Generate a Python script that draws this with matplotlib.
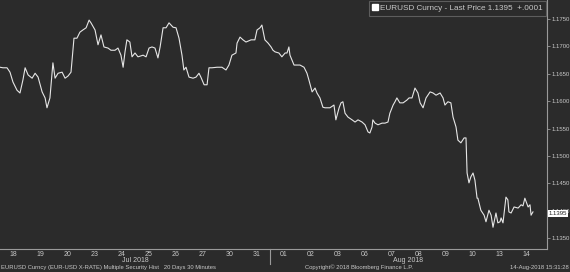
import matplotlib.pyplot as plt
import matplotlib.transforms as mtransforms
from matplotlib.lines import Line2D

plt.rcParams['font.family'] = ['Liberation Sans', 'DejaVu Sans']

# time in trading days since start of 18 Jul (30 min bars, traced), price
t_days = [0.00, 0.11, 0.26, 0.37, 0.48, 0.63, 0.74, 0.85, 0.93, 1.04, 1.19, 1.30, 1.41,
          1.56, 1.67, 1.74, 1.85, 1.96, 2.04, 2.15, 2.30, 2.41, 2.52, 2.63, 2.74, 2.85,
          2.96, 3.07, 3.19, 3.30, 3.37, 3.52, 3.63, 3.74, 3.85, 4.00, 4.11, 4.26, 4.37,
          4.48, 4.56, 4.63, 4.70, 4.81, 4.89, 5.00, 5.11, 5.30, 5.41, 5.52, 5.63, 5.74,
          5.85, 5.93, 6.04, 6.15, 6.26, 6.41, 6.52, 6.63, 6.74, 6.81, 6.89, 7.00, 7.15,
          7.26, 7.37, 7.44, 7.56, 7.67, 7.74, 7.85, 8.04, 8.22, 8.37, 8.48, 8.59, 8.74,
          8.78, 8.89, 9.00, 9.11, 9.30, 9.44, 9.52, 9.63, 9.70, 9.81, 9.93, 10.04, 10.11,
          10.19, 10.33, 10.44, 10.56, 10.63, 10.70, 10.74, 10.89, 11.00, 11.11, 11.26,
          11.37, 11.44, 11.56, 11.67, 11.74, 11.85, 11.96, 12.04, 12.22, 12.37, 12.44,
          12.56, 12.63, 12.70, 12.78, 12.89, 13.04, 13.15, 13.26, 13.41, 13.52, 13.63,
          13.70, 13.78, 13.81, 13.89, 14.00, 14.15, 14.26, 14.37, 14.44, 14.56, 14.63,
          14.70, 14.81, 14.93, 15.07, 15.15, 15.26, 15.37, 15.48, 15.56, 15.67, 15.78,
          15.93, 16.04, 16.15, 16.30, 16.41, 16.48, 16.59, 16.70, 16.78, 16.89, 16.96,
          17.07, 17.19, 17.26, 17.30, 17.37, 17.44, 17.52, 17.59, 17.67, 17.70, 17.81,
          17.93, 18.00, 18.11, 18.19, 18.26, 18.37, 18.44, 18.52, 18.56, 18.63, 18.74,
          18.81, 18.85, 18.93, 19.04, 19.19, 19.30, 19.37, 19.44, 19.56, 19.63, 19.67,
          19.74]
price = [1.1662, 1.1661, 1.1661, 1.1653, 1.1635, 1.1620, 1.1615, 1.1639, 1.1661, 1.1648,
         1.1642, 1.1651, 1.1644, 1.1617, 1.1606, 1.1588, 1.1606, 1.1670, 1.1642, 1.1651,
         1.1653, 1.1642, 1.1646, 1.1653, 1.1715, 1.1715, 1.1726, 1.1730, 1.1734, 1.1748,
         1.1743, 1.1730, 1.1703, 1.1721, 1.1699, 1.1697, 1.1693, 1.1693, 1.1697, 1.1684,
         1.1662, 1.1690, 1.1712, 1.1708, 1.1681, 1.1688, 1.1681, 1.1684, 1.1681, 1.1697,
         1.1699, 1.1697, 1.1679, 1.1699, 1.1734, 1.1734, 1.1743, 1.1735, 1.1734, 1.1715,
         1.1684, 1.1657, 1.1662, 1.1644, 1.1642, 1.1644, 1.1651, 1.1644, 1.1630, 1.1630,
         1.1661, 1.1661, 1.1662, 1.1662, 1.1657, 1.1666, 1.1684, 1.1688, 1.1706, 1.1717,
         1.1712, 1.1708, 1.1712, 1.1712, 1.1730, 1.1734, 1.1739, 1.1712, 1.1706, 1.1699,
         1.1693, 1.1690, 1.1688, 1.1681, 1.1688, 1.1688, 1.1699, 1.1684, 1.1666, 1.1666,
         1.1666, 1.1662, 1.1651, 1.1639, 1.1617, 1.1624, 1.1615, 1.1606, 1.1589, 1.1588,
         1.1588, 1.1593, 1.1566, 1.1588, 1.1597, 1.1599, 1.1578, 1.1571, 1.1566, 1.1562,
         1.1566, 1.1562, 1.1557, 1.1544, 1.1542, 1.1553, 1.1566, 1.1560, 1.1557, 1.1560,
         1.1560, 1.1562, 1.1578, 1.1593, 1.1599, 1.1606, 1.1597, 1.1597, 1.1602, 1.1606,
         1.1606, 1.1624, 1.1615, 1.1597, 1.1588, 1.1606, 1.1617, 1.1615, 1.1611, 1.1615,
         1.1606, 1.1593, 1.1599, 1.1597, 1.1571, 1.1553, 1.1529, 1.1524, 1.1533, 1.1533,
         1.1469, 1.1451, 1.1462, 1.1469, 1.1456, 1.1423, 1.1423, 1.1401, 1.1392, 1.1380,
         1.1401, 1.1392, 1.1370, 1.1396, 1.1378, 1.1380, 1.1387, 1.1378, 1.1425, 1.1420,
         1.1398, 1.1396, 1.1407, 1.1405, 1.1411, 1.1409, 1.1423, 1.1407, 1.1411, 1.1392,
         1.1398]

day_labels = ['18', '19', '20', '23', '24', '25', '26', '27', '30', '31',
              '01', '02', '03', '06', '07', '08', '09', '10', '13', '14']
month_labels = [('Jul 2018', 5.0), ('Aug 2018', 15.1)]
month_split = 10.0
y_ticks = [1.1350, 1.1400, 1.1450, 1.1500, 1.1550, 1.1600, 1.1650, 1.1700, 1.1750]
last_price = 1.1395

bg = '#2b2b2b'
fg = '#c8c8c8'

fig = plt.figure(figsize=(5.7, 2.72), dpi=100, facecolor=bg)
ax = fig.add_axes([0, 23 / 272, 547 / 570, 249 / 272], facecolor=bg)

ax.plot(t_days, price, color='#e6e6e6', lw=0.8)

ax.set_xlim(0, 20.26)
ax.set_ylim(1.13303, 1.17847)

for s in ['top', 'left']:
    ax.spines[s].set_visible(False)
ax.spines['bottom'].set_color('#9a9a9a')
ax.spines['right'].set_color('#9a9a9a')
ax.spines['bottom'].set_linewidth(0.8)
ax.spines['right'].set_linewidth(0.8)

ax.set_xticks([i + 0.5 for i in range(len(day_labels))])
ax.set_xticklabels(day_labels)
ax.tick_params(axis='x', length=0, pad=1.5, labelsize=5, labelcolor=fg)

ax.yaxis.tick_right()
ax.set_yticks(y_ticks)
ax.set_yticklabels(['%.4f' % v for v in y_ticks])
ax.tick_params(axis='y', direction='out', length=2.2, width=0.6, color='#9a9a9a',
               pad=0.8, labelsize=4.3, labelcolor=fg)

trans = mtransforms.blended_transform_factory(ax.transData, ax.transAxes)
for name, xpos in month_labels:
    ax.text(xpos, -0.048, name, transform=trans, ha='center', va='center',
            fontsize=5, color=fg)
ax.plot([month_split, month_split], [0, -0.062], transform=trans, clip_on=False,
        color='#9a9a9a', lw=0.8)

handle = Line2D([], [], marker='s', ls='', color='white', markersize=5)
leg = ax.legend([handle], ['EURUSD Curncy - Last Price 1.1395  +.0001'],
                loc='upper right', bbox_to_anchor=(1.0, 1.0), fontsize=5.9,
                frameon=True, facecolor=bg, edgecolor='#6a6a6a', handlelength=0.6,
                handletextpad=0.3, borderpad=0.45, borderaxespad=0.1, labelcolor=fg)
leg.get_frame().set_linewidth(0.8)
leg.get_frame().set_boxstyle('square', pad=0)

ytrans = mtransforms.blended_transform_factory(ax.transAxes, ax.transData)
ax.text(1.003, last_price, '%.4f' % last_price, transform=ytrans, ha='left',
        va='center', fontsize=4.3, color='#222222', clip_on=False,
        bbox=dict(boxstyle='square,pad=0.15', facecolor='white', edgecolor='none'))

fig.text(0.002, 0.006, 'EURUSD Curncy (EUR-USD X-RATE) Multiple Security Hist   20 Days 30 Minutes',
         fontsize=4.2, color=fg, ha='left', va='bottom')
fig.text(0.535, 0.006, 'Copyright\u00a9 2018 Bloomberg Finance L.P.',
         fontsize=4.2, color=fg, ha='left', va='bottom')
fig.text(0.998, 0.006, '14-Aug-2018 15:31:28',
         fontsize=4.2, color=fg, ha='right', va='bottom')

fig.savefig('out.png', dpi=100, facecolor=bg)
